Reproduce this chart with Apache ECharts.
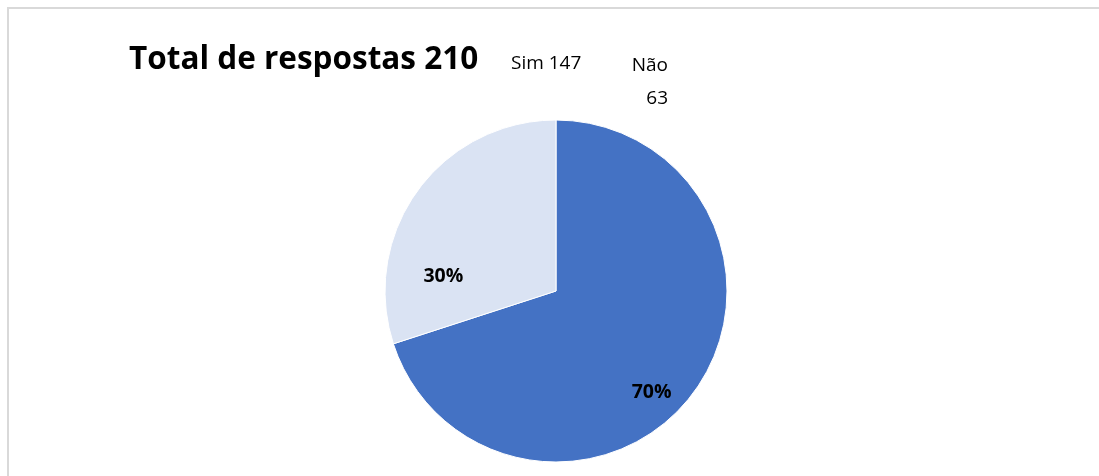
<!DOCTYPE html>
<html>
<head>
<meta charset="utf-8">
<script src="https://cdn.jsdelivr.net/npm/echarts@6/dist/echarts.min.js"></script>
<style>
  html, body { margin: 0; padding: 0; background: #fff; }
  #frame {
    position: absolute; left: 7px; top: 7px; right: 0; bottom: 0;
    border-left: 2px solid #d9d9d9; border-top: 2px solid #d9d9d9;
  }
  #main { position: absolute; left: 0; top: 0; width: 1099px; height: 476px; }
</style>
</head>
<body>
<div id="frame"></div>
<div id="main"></div>
<script>
  const categories = ['Sim', 'Não'];
  const values = [147, 63];
  const colors = ['#4472C4', '#DAE3F3'];

  const total = values.reduce((a, b) => a + b, 0);

  // nudges so the percent labels sit where Excel put them
  const labelShift = [[24, 49], [-41, 37]];

  const myChart = echarts.init(document.getElementById('main'));
  window.addEventListener('resize', function () {
    myChart.resize();
  });

  const font = '"Open Sans", "Noto Sans", sans-serif';

  const option = {
    animation: false,
    title: [
      {
        text: `Total de respostas ${total}`,
        left: 124,
        top: 39,
        textStyle: { fontFamily: font, fontSize: 31.5, fontWeight: 'bold', color: '#000' }
      },
      {
        text: `${categories[0]} ${values[0]}`,
        left: 506,
        top: 43,
        textStyle: { fontFamily: font, fontSize: 19, fontWeight: 'normal', color: '#000', lineHeight: 31 }
      },
      {
        text: `${categories[1]}\n${values[1]}`,
        left: 663,
        top: 44,
        textAlign: 'right',
        textStyle: { fontFamily: font, fontSize: 19, fontWeight: 'normal', color: '#000', lineHeight: 33, align: 'right' }
      }
    ],
    series: [
      {
        type: 'pie',
        center: [556, 291],
        radius: 171,
        startAngle: 90,
        clockwise: true,
        percentPrecision: 0,
        silent: true,
        label: {
          show: true,
          position: 'inside',
          formatter: '{d}%',
          fontFamily: font,
          fontSize: 19.5,
          fontWeight: 'bold',
          color: '#000'
        },
        labelLine: { show: false },
        labelLayout: function (params) {
          const s = labelShift[params.dataIndex] || [0, 0];
          return { dx: s[0], dy: s[1] };
        },
        itemStyle: { borderColor: '#fff', borderWidth: 1 },
        data: categories.map((name, i) => ({
          name: name,
          value: values[i],
          itemStyle: { color: colors[i] }
        }))
      }
    ]
  };

  option && myChart.setOption(option);
</script>
</body>
</html>
